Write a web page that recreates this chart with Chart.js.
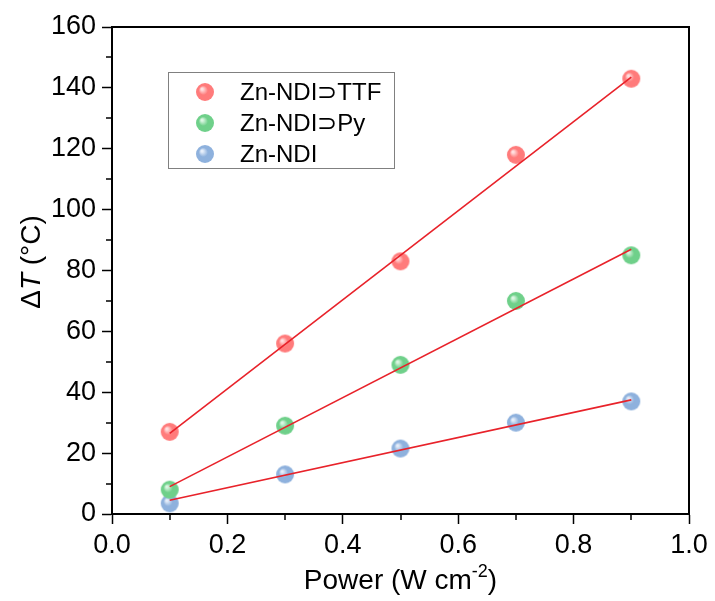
<!DOCTYPE html>
<html lang="en">
<head>
  <meta charset="UTF-8">
  <title>Delta T vs Power</title>
  <style>
    body { margin: 0; background: #fff; }
    #wrap { width: 715px; height: 601px; }
  </style>
  <script src="https://cdn.jsdelivr.net/npm/chart.js"></script>
</head>
<body>
  <div id="wrap"><canvas id="chart" width="715" height="601"></canvas></div>

  <script>
    // data
    const powerValues = [0.1, 0.3, 0.5, 0.7, 0.9];
    const ttfValues = [27, 56, 83, 118, 143];
    const pyValues = [8, 29, 49, 70, 85];
    const ndiValues = [3.5, 13, 21.5, 30, 37];

    // linear fit lines (end points)
    const fitX = [0.1, 0.9];
    const ttfFit = [26.5, 143.5];
    const pyFit = [9, 87];
    const ndiFit = [4.5, 37.5];

    const xTickLabels = ['0.0', '0.2', '0.4', '0.6', '0.8', '1.0'];
    const seriesNames = ['Zn-NDI\u2283TTF', 'Zn-NDI\u2283Py', 'Zn-NDI'];
    const seriesColors = ['#ff7b7b', '#6fd08a', '#8eb1dd'];
    const lightColors = ['#ffe0e0', '#dcf6e3', '#e6eefa'];

    const fontFam = '"Liberation Sans", Arial, sans-serif';

    // glossy sphere used as point marker
    function makeBall(base, light) {
      const c = document.createElement('canvas');
      c.width = 20; c.height = 20;
      const g = c.getContext('2d');
      const grad = g.createRadialGradient(7, 7, 1, 10, 10, 9);
      grad.addColorStop(0, light);
      grad.addColorStop(0.45, base);
      grad.addColorStop(1, base);
      g.fillStyle = grad;
      g.beginPath();
      g.arc(10, 10, 9, 0, Math.PI * 2);
      g.fill();
      return c;
    }
    const balls = seriesColors.map((c, i) => makeBall(c, lightColors[i]));

    function toPoints(xs, ys) {
      return xs.map((x, i) => ({ x: x, y: ys[i] }));
    }

    const scatterSets = [ttfValues, pyValues, ndiValues].map((vals, i) => ({
      label: seriesNames[i],
      type: 'scatter',
      data: toPoints(powerValues, vals),
      pointStyle: balls[i],
      order: 2
    }));

    const fitSets = [ttfFit, pyFit, ndiFit].map(vals => ({
      type: 'line',
      data: toPoints(fitX, vals),
      borderColor: '#e8222a',
      borderWidth: 1.6,
      pointRadius: 0,
      fill: false,
      order: 1
    }));

    // frame, minor ticks, legend and axis titles
    const decorPlugin = {
      id: 'decor',
      afterDraw(chart) {
        const ctx = chart.ctx;
        const a = chart.chartArea;
        const xs = chart.scales.x, ys = chart.scales.y;
        ctx.save();
        ctx.strokeStyle = '#000';
        ctx.lineWidth = 2;
        ctx.strokeRect(a.left, a.top, a.right - a.left, a.bottom - a.top);

        // minor ticks
        ctx.lineWidth = 1.5;
        ctx.beginPath();
        for (let v = 0.1; v < 1; v += 0.2) {
          const px = Math.round(xs.getPixelForValue(v));
          ctx.moveTo(px, a.bottom);
          ctx.lineTo(px, a.bottom + 6);
        }
        for (let v = 10; v < 160; v += 20) {
          const py = Math.round(ys.getPixelForValue(v));
          ctx.moveTo(a.left, py);
          ctx.lineTo(a.left - 6, py);
        }
        ctx.stroke();

        // legend
        ctx.strokeStyle = '#808080';
        ctx.lineWidth = 1;
        ctx.strokeRect(168.5, 72.5, 226, 96);
        ctx.fillStyle = '#000';
        ctx.font = '24px ' + fontFam;
        ctx.textBaseline = 'middle';
        ctx.textAlign = 'left';
        seriesNames.forEach((name, i) => {
          const yy = 92 + i * 31;
          ctx.drawImage(balls[i], 195, yy - 10);
          ctx.fillText(name, 240, yy + 1);
        });

        // x title with superscript
        const cx = (a.left + a.right) / 2;
        const p1 = 'Power (W cm';
        const sup = '-2';
        const p3 = ')';
        ctx.font = '28px ' + fontFam;
        const w1 = ctx.measureText(p1).width;
        const w3 = ctx.measureText(p3).width;
        ctx.font = '18px ' + fontFam;
        const w2 = ctx.measureText(sup).width;
        const x0 = cx - (w1 + w2 + w3) / 2;
        const ty = 589;
        ctx.textBaseline = 'alphabetic';
        ctx.font = '28px ' + fontFam;
        ctx.fillText(p1, x0, ty);
        ctx.font = '18px ' + fontFam;
        ctx.fillText(sup, x0 + w1, ty - 12);
        ctx.font = '28px ' + fontFam;
        ctx.fillText(p3, x0 + w1 + w2, ty);

        // y title: Delta T (italic T)
        ctx.translate(40, 262);
        ctx.rotate(-Math.PI / 2);
        const parts = [
          ['\u0394', '28px ' + fontFam],
          ['T', 'italic 28px ' + fontFam],
          [' (\u00B0C)', '28px ' + fontFam]
        ];
        let total = 0;
        parts.forEach(p => { ctx.font = p[1]; total += ctx.measureText(p[0]).width; });
        let xx = -total / 2;
        parts.forEach(p => {
          ctx.font = p[1];
          ctx.fillText(p[0], xx, 0);
          xx += ctx.measureText(p[0]).width;
        });
        ctx.restore();
      }
    };

    const tickFont = { family: fontFam, size: 27 };

    new Chart(document.getElementById('chart'), {
      type: 'scatter',
      data: { datasets: scatterSets.concat(fitSets) },
      options: {
        responsive: false,
        animation: false,
        layout: { padding: { top: 27, right: 26, left: 0, bottom: 0 } },
        plugins: {
          legend: { display: false },
          tooltip: { enabled: false }
        },
        scales: {
          x: {
            type: 'linear',
            min: 0, max: 1,
            afterFit(s) { s.height = 87; },
            border: { display: true, color: '#000', width: 2 },
            grid: { drawOnChartArea: false, drawTicks: true, tickLength: 10, color: '#000', tickWidth: 1.5 },
            ticks: {
              stepSize: 0.2,
              color: '#000',
              font: tickFont,
              padding: 5,
              maxRotation: 0,
              callback: (v) => xTickLabels[Math.round(v * 5)]
            }
          },
          y: {
            type: 'linear',
            min: 0, max: 160,
            afterFit(s) { s.width = 112; },
            border: { display: true, color: '#000', width: 2 },
            grid: { drawOnChartArea: false, drawTicks: true, tickLength: 10, color: '#000', tickWidth: 1.5 },
            ticks: {
              stepSize: 20,
              color: '#000',
              font: tickFont,
              padding: 6
            }
          }
        }
      },
      plugins: [decorPlugin]
    });
  </script>
</body>
</html>
